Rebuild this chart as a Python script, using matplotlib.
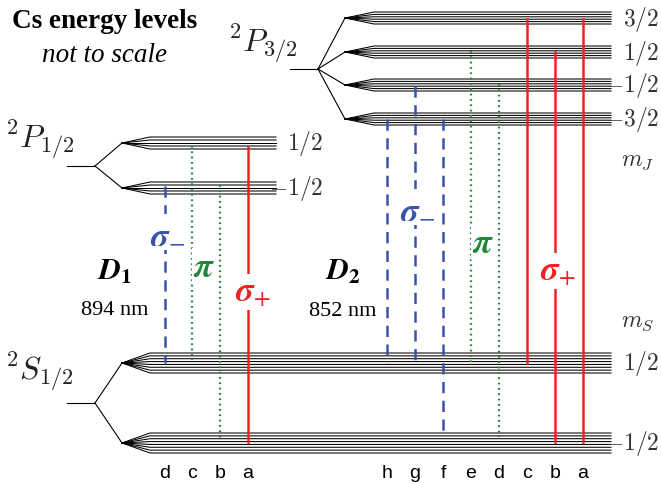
import numpy as np
import matplotlib
matplotlib.use("Agg")
import matplotlib.pyplot as plt

plt.rcParams['mathtext.fontset'] = 'cm'

# level geometry: stems as (x0, x1, y)
s_stem = (67, 95, 404)
p12_stem = (67, 95, 167)
p32_stem = (290, 318, 70)

s_levels = [364, 444]          # m_S = 1/2, -1/2
p12_levels = [144, 189]        # m_J = 1/2, -1/2
p32_levels = [19, 53, 86, 120] # m_J = 3/2 .. -3/2

s_sub = 8
p12_sub = 5
p32_sub = 6

s_labels = ['$1/2$', '$-1/2$']
p12_labels = ['$1/2$', '$-1/2$']
p32_labels = ['$3/2$', '$1/2$', '$-1/2$', '$-3/2$']

# transitions: x, top y, bottom y, letter
d1_x = [165, 192, 220, 248]
d1_top = [187, 147, 186, 148]
d1_bot = [364, 361, 442, 443]
d1_kind = ['minus', 'pi', 'pi', 'plus']
d1_names = ['d', 'c', 'b', 'a']

d2_x = [387, 415, 443, 471, 499, 527, 555, 583]
d2_top = [120, 87, 120, 52, 85, 20, 53, 20]
d2_bot = [364, 364, 438, 364, 438, 364, 443, 443]
d2_kind = ['minus', 'minus', 'minus', 'pi', 'pi', 'plus', 'plus', 'plus']
d2_names = ['h', 'g', 'f', 'e', 'd', 'c', 'b', 'a']

blue = '#3953a6'
green = '#1d8a3b'
red = '#ee2222'
styles = {
    'minus': dict(color=blue, lw=1.8, dashes=(4.5, 3)),
    'pi': dict(color=green, lw=1.6, dashes=(0.8, 1.6)),
    'plus': dict(color=red, lw=1.8),
}


def draw_term(ax, stem, levels, nsub, spread, x_tip, x_fan, x_end):
    x0, x1, y0 = stem
    ax.plot([x0, x1], [y0, y0], color='black', lw=0.8)
    for y in levels:
        ax.plot([x1, x_tip], [y0, y], color='black', lw=0.8)
        offs = np.linspace(-spread / 2, spread / 2, nsub)
        for o in offs:
            ax.plot([x_tip, x_fan, x_end], [y, y + o, y + o],
                    color='black', lw=0.75)


fig = plt.figure(figsize=(6.61, 4.85), dpi=100)
ax = fig.add_axes([0, 0, 1, 1])
ax.set_xlim(0, 661)
ax.set_ylim(485, 0)
ax.axis('off')

draw_term(ax, s_stem, s_levels, s_sub, 20, 122, 150, 611)
draw_term(ax, p12_stem, p12_levels, p12_sub, 12, 122, 150, 276)
draw_term(ax, p32_stem, p32_levels, p32_sub, 12, 345, 374, 611)

for xs, tops, bots, kinds in [(d1_x, d1_top, d1_bot, d1_kind),
                              (d2_x, d2_top, d2_bot, d2_kind)]:
    for x, t, b, k in zip(xs, tops, bots, kinds):
        ax.plot([x, x], [t, b], **styles[k])

for name, x in zip(d1_names + d2_names, d1_x + d2_x):
    ax.text(x, 474, name, ha='center', va='center', fontsize=14,
            family='Liberation Sans')

# m labels
grey = '#333333'
for lab, y in zip(s_labels, s_levels):
    ax.text(659, y, lab, ha='right', va='center', fontsize=17, color=grey)
for lab, y in zip(p32_labels, p32_levels):
    ax.text(659, y, lab, ha='right', va='center', fontsize=17, color=grey)
for lab, y in zip(p12_labels, p12_levels):
    ax.text(323, y, lab, ha='right', va='center', fontsize=17, color=grey)
ax.text(638, 160, '$m_J$', ha='center', va='center', fontsize=17, color=grey)
ax.text(638, 321, '$m_S$', ha='center', va='center', fontsize=17, color=grey)

# term symbols
ax.text(5, 140, '$^2P_{1/2}$', ha='left', va='center', fontsize=23, color='#222222')
ax.text(5, 372, '$^2S_{1/2}$', ha='left', va='center', fontsize=23, color='#222222')
ax.text(228, 44, '$^2P_{3/2}$', ha='left', va='center', fontsize=23, color='#222222')

# title
ax.text(105, 21, 'Cs energy levels', ha='center', va='center', fontsize=19.5,
        family='Liberation Serif', weight='bold')
ax.text(105, 56, 'not to scale', ha='center', va='center', fontsize=19.5,
        family='Liberation Serif', style='italic')

# line labels
box = dict(facecolor='white', edgecolor='none', pad=1)
ax.text(115, 272, r'$\mathbfit{D}_\mathbf{1}$', ha='center', va='center',
        fontsize=22, math_fontfamily='stix')
ax.text(115, 311, '894 nm', ha='center', va='center', fontsize=16,
        family='Liberation Serif')
ax.text(343, 272, r'$\mathbfit{D}_\mathbf{2}$', ha='center', va='center',
        fontsize=22, math_fontfamily='stix')
ax.text(343, 312, '852 nm', ha='center', va='center', fontsize=16,
        family='Liberation Serif')

sig = dict(ha='center', va='center', fontsize=25, math_fontfamily='stix', bbox=box)
ax.text(168, 233, r'$\mathbfit{\sigma}_{-}$', color=blue, **sig)
ax.text(204, 267, r'$\mathbfit{\pi}$', color=green, **sig)
ax.text(253, 293, r'$\mathbfit{\sigma}_{+}$', color=red, **sig)
ax.text(418, 208, r'$\mathbfit{\sigma}_{-}$', color=blue, **sig)
ax.text(483, 243, r'$\mathbfit{\pi}$', color=green, **sig)
ax.text(558, 272, r'$\mathbfit{\sigma}_{+}$', color=red, **sig)

fig.savefig('out.png', dpi=100)
